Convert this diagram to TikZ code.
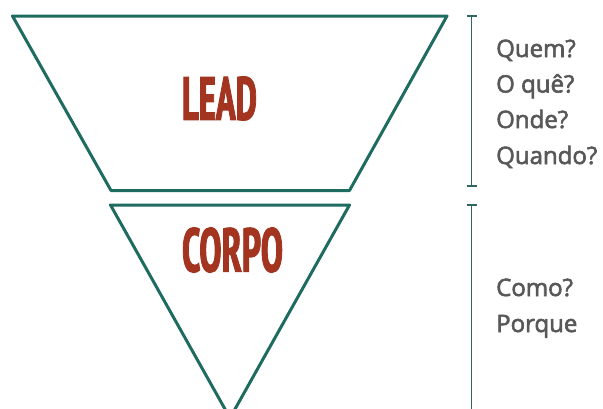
\documentclass[tikz,border=0pt]{standalone}
\usepackage{fontspec}
\setmainfont{PT Sans}
\newfontfamily\notefont[FakeBold=2.5]{Open Sans}
\newfontfamily\titlefont[FakeBold=2]{PT Sans Narrow Bold}
\usepackage{graphicx}
\definecolor{funnel}{HTML}{1E6B60}
\definecolor{brace}{HTML}{2F6660}
\definecolor{title}{HTML}{A3341F}
\definecolor{note}{HTML}{585858}
\begin{document}
\begin{tikzpicture}[x=1pt,y=-1pt,
  funnelshape/.style={draw=funnel,line width=3pt,line join=round,fill=white},
  bracket/.style={draw=brace,line width=1.4pt},
  titletext/.style={text=title,inner sep=0pt},
  notetext/.style={text=note,anchor=base west,inner sep=0pt,font=\notefont\fontsize{24}{27}\selectfont}]
\useasboundingbox (0,0) rectangle (603,408);
\clip (0,0) rectangle (603,408);

% upper block: the lead
\coordinate (ltl) at (12.5,16);
\coordinate (ltr) at (447,16);
\coordinate (lbr) at (349.5,190.5);
\coordinate (lbl) at (111,190.5);
\draw[funnelshape] (ltl) -- (ltr) -- (lbr) -- (lbl) -- cycle;
\node[titletext] (lead) at (219.5,98.5)
  {\resizebox{75pt}{43pt}{\titlefont LEAD}};

% lower block: the body, apex running past the lower edge
\coordinate (ctl) at (110.5,205);
\coordinate (ctr) at (349.5,205);
\coordinate (cap) at (230,418);
\draw[funnelshape] (ctl) -- (ctr) -- (cap) -- cycle;
\node[titletext] (corpo) at (232.5,250)
  {\resizebox{101pt}{44pt}{\titlefont CORPO}};

% brackets
\coordinate (b1t) at (471.5,16);
\coordinate (b1b) at (471.5,186);
\coordinate (b2t) at (471.5,205);
\coordinate (b2b) at (471.5,420);
\draw[bracket] (b1t) -- (b1b);
\draw[bracket] ([xshift=-5pt]b1t) -- ([xshift=5pt]b1t);
\draw[bracket] ([xshift=-5pt]b1b) -- ([xshift=5pt]b1b);
\draw[bracket] (b2t) -- (b2b);
\draw[bracket] ([xshift=-5pt]b2t) -- ([xshift=5pt]b2t);

% questions
\node[notetext] (q1) at (496,57) {Quem?};
\node[notetext] (q2) at (496,92.5) {O quê?};
\node[notetext] (q3) at (496,128) {Onde?};
\node[notetext] (q4) at (496,164) {Quando?};
\node[notetext] (q5) at (496,296) {Como?};
\node[notetext] (q6) at (496,332) {Porque};
\end{tikzpicture}
\end{document}
